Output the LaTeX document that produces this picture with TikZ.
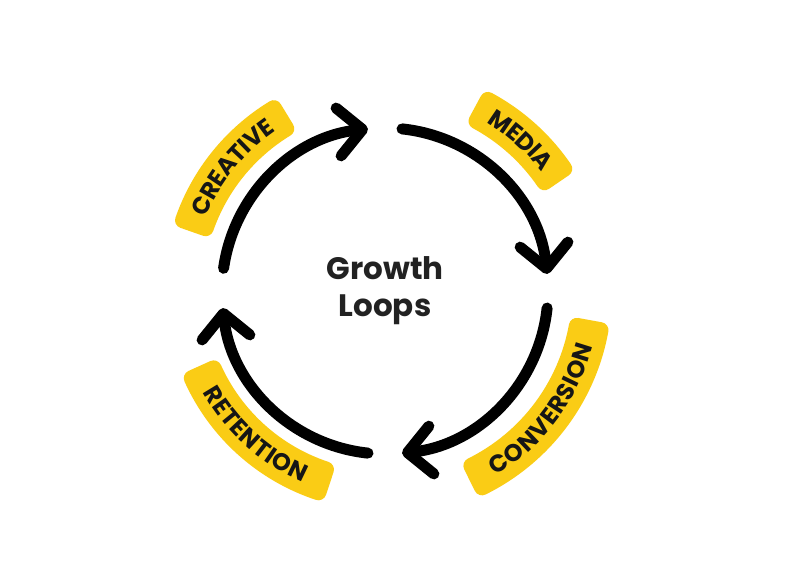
\documentclass[tikz,border=0pt]{standalone}
\usepackage{fontspec}
\setmainfont{Poppins}
\usetikzlibrary{arrows.meta,decorations.text}
\definecolor{bandyellow}{RGB}{250,204,21}
\definecolor{ink}{RGB}{22,22,22}
\definecolor{titleink}{RGB}{34,34,34}
\tikzset{
  loop arc/.style={line width=11pt, line cap=round, line join=round,
    -{Straight Barb[length=24pt,width=48pt,line cap=round,line join=round]}},
  band/.style={fill=bandyellow, draw=bandyellow, line width=16pt, line join=round},
  bandtext/.style={decorate, decoration={text along path, text align=center, raise=-8.4pt,
    text={|\bfseries\fontsize{24}{24}\selectfont\color{ink}|#1}}},
  title/.style={align=center, text=titleink, font=\bfseries\fontsize{31}{37}\selectfont}
}
\newcommand\bandarc[3]{%
  \fill[band] ({#2+2.3}:{#1+12}) arc[start angle={#2+2.3}, end angle={#3-2.3}, radius={#1+12}]
    -- ({#3-2.3}:{#1-12}) arc[start angle={#3-2.3}, end angle={#2+2.3}, radius={#1-12}] -- cycle;}
\begin{document}
\begin{tikzpicture}[x=1pt,y=1pt]
\useasboundingbox (-385,-291) rectangle (401,291);
\fill[white] (-385,-291) rectangle (401,291);
% yellow bands
\bandarc{202}{119}{163}
\bandarc{205}{32}{64}
\bandarc{207}{-66}{-8}
\bandarc{200}{202}{254}
% labels
\path[bandtext=CREATIVE] (163:202) arc[start angle=163, end angle=119, radius=202];
\path[bandtext=MEDIA] (64:205) arc[start angle=64, end angle=32, radius=205];
\path[bandtext=CONVERSION] (-66:207) arc[start angle=-66, end angle=-8, radius=207];
\path[bandtext=RETENTION] (202:200) arc[start angle=202, end angle=254, radius=200];
% loop arrows
\coordinate (s1) at (172:163);
\coordinate (s2) at (84:163);
\coordinate (s3) at (-6:163);
\coordinate (s4) at (-96:163);
\draw[loop arc] (s1) arc[start angle=172, end angle=96, radius=163];
\draw[loop arc] (s2) arc[start angle=84, end angle=6, radius=163];
\draw[loop arc] (s3) arc[start angle=-6, end angle=-84, radius=163];
\draw[loop arc] (s4) arc[start angle=-96, end angle=-174, radius=163];
% title
\node[title] (t) at (0,0) {Growth\\Loops};
\end{tikzpicture}
\end{document}
